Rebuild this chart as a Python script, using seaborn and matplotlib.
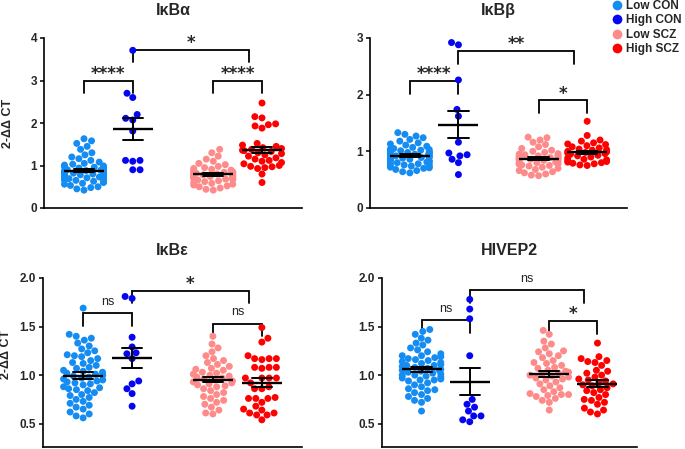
import pandas as pd
import seaborn as sns
import matplotlib.pyplot as plt

genes = ["IκBα", "IκBβ", "IκBε", "HIVEP2"]
groups = ["Low CON", "High CON", "Low SCZ", "High SCZ"]
colors = ["#158cf2", "#0505f2", "#ff8a8a", "#ff0000"]
positions = [0, 1, 2.65, 3.65]

# IκBα
a_low_con = [1.63, 1.58, 1.52, 1.45, 1.38, 1.30, 1.25, 1.20, 1.16, 1.12, 1.08, 1.05, 1.03, 1.01, 0.99,
             0.97, 0.96, 0.95, 0.94, 0.93, 0.92, 0.91, 0.90, 0.89, 0.88, 0.87, 0.86, 0.85, 0.84, 0.83,
             0.82, 0.81, 0.80, 0.79, 0.78, 0.77, 0.76, 0.75, 0.74, 0.73, 0.72, 0.71, 0.70, 0.69, 0.68,
             0.67, 0.66, 0.65, 0.63, 0.61, 0.60, 0.58, 0.56, 0.53, 0.50, 0.48, 0.45, 0.42]
a_high_con = [3.71, 2.70, 2.60, 2.20, 2.11, 2.07, 1.81, 1.12, 1.12, 1.10, 0.90, 0.90]
a_low_scz = [1.38, 1.30, 1.22, 1.15, 1.10, 1.05, 1.02, 0.98, 0.95, 0.93, 0.91, 0.89, 0.87, 0.86, 0.85,
             0.84, 0.83, 0.82, 0.81, 0.80, 0.79, 0.78, 0.77, 0.76, 0.75, 0.74, 0.73, 0.72, 0.71, 0.70,
             0.69, 0.68, 0.67, 0.66, 0.64, 0.62, 0.60, 0.58, 0.56, 0.54, 0.52, 0.50, 0.47, 0.44, 0.42]
a_high_scz = [2.47, 2.15, 2.12, 1.98, 1.96, 1.93, 1.88, 1.52, 1.48, 1.45, 1.42, 1.40, 1.38, 1.36, 1.35,
              1.33, 1.30, 1.28, 1.25, 1.22, 1.18, 1.15, 1.12, 1.10, 1.07, 1.04, 1.00, 0.98, 0.97, 0.95,
              0.93, 0.80, 0.60]

# IκBβ
b_low_con = [1.33, 1.30, 1.27, 1.24, 1.21, 1.18, 1.15, 1.13, 1.11, 1.09, 1.07, 1.05, 1.04, 1.03, 1.02,
             1.01, 1.00, 0.99, 0.98, 0.97, 0.97, 0.96, 0.95, 0.95, 0.94, 0.93, 0.93, 0.92, 0.91, 0.90,
             0.90, 0.89, 0.88, 0.87, 0.86, 0.85, 0.84, 0.83, 0.82, 0.81, 0.80, 0.79, 0.78, 0.77, 0.76,
             0.75, 0.74, 0.73, 0.72, 0.71, 0.70, 0.68, 0.66, 0.64, 0.62]
b_high_con = [2.92, 2.88, 2.26, 1.74, 1.62, 1.16, 0.97, 0.94, 0.92, 0.86, 0.80, 0.59]
b_low_scz = [1.25, 1.24, 1.20, 1.16, 1.12, 1.08, 1.05, 1.02, 1.00, 0.98, 0.96, 0.95, 0.94, 0.93, 0.92,
             0.91, 0.90, 0.89, 0.88, 0.87, 0.87, 0.86, 0.85, 0.84, 0.83, 0.82, 0.81, 0.80, 0.79, 0.78,
             0.77, 0.76, 0.75, 0.74, 0.72, 0.70, 0.68, 0.66, 0.64, 0.62, 0.60, 0.58, 0.57]
b_high_scz = [1.53, 1.28, 1.20, 1.18, 1.15, 1.13, 1.12, 1.10, 1.08, 1.06, 1.04, 1.03, 1.02, 1.00, 0.99,
              0.98, 0.97, 0.96, 0.95, 0.93, 0.92, 0.90, 0.88, 0.86, 0.85, 0.84, 0.82, 0.81, 0.80, 0.79,
              0.78, 0.76, 0.75]

# IκBε
e_low_con = [1.69, 1.42, 1.40, 1.38, 1.36, 1.33, 1.30, 1.27, 1.25, 1.23, 1.21, 1.20, 1.19, 1.17, 1.15,
             1.13, 1.12, 1.10, 1.08, 1.07, 1.05, 1.04, 1.03, 1.02, 1.01, 1.00, 0.99, 0.98, 0.97, 0.96,
             0.95, 0.94, 0.93, 0.92, 0.91, 0.90, 0.88, 0.87, 0.86, 0.85, 0.84, 0.82, 0.80, 0.79, 0.77,
             0.75, 0.73, 0.71, 0.69, 0.67, 0.65, 0.62, 0.60, 0.58, 0.56]
e_high_con = [1.79, 1.81, 1.39, 1.29, 1.23, 1.17, 1.22, 0.94, 0.86, 0.91, 0.81, 0.68]
e_low_scz = [1.40, 1.32, 1.28, 1.24, 1.20, 1.17, 1.15, 1.13, 1.11, 1.09, 1.07, 1.06, 1.05, 1.03, 1.02,
             1.01, 1.00, 0.99, 0.98, 0.97, 0.96, 0.95, 0.94, 0.93, 0.92, 0.91, 0.90, 0.89, 0.88, 0.86,
             0.84, 0.82, 0.80, 0.78, 0.76, 0.74, 0.72, 0.70, 0.67, 0.64, 0.61, 0.60]
e_high_scz = [1.49, 1.38, 1.34, 1.20, 1.17, 1.17, 1.16, 1.17, 1.08, 1.08, 1.07, 1.08, 0.97, 0.97, 0.97,
              0.97, 0.92, 0.88, 0.86, 0.86, 0.76, 0.76, 0.77, 0.76, 0.72, 0.68, 0.65, 0.64, 0.61, 0.61,
              0.59, 0.59, 0.54]

# HIVEP2
h_low_con = [1.47, 1.45, 1.42, 1.38, 1.36, 1.33, 1.31, 1.28, 1.26, 1.24, 1.22, 1.20, 1.20, 1.19, 1.18,
             1.17, 1.16, 1.15, 1.14, 1.13, 1.12, 1.11, 1.10, 1.10, 1.09, 1.08, 1.07, 1.06, 1.05, 1.05,
             1.04, 1.03, 1.02, 1.01, 1.00, 1.00, 0.99, 0.98, 0.97, 0.96, 0.95, 0.95, 0.94, 0.92, 0.90,
             0.88, 0.86, 0.85, 0.84, 0.82, 0.80, 0.78, 0.76, 0.74, 0.72, 0.63]
h_high_con = [1.78, 1.68, 1.58, 1.20, 0.75, 0.70, 0.67, 0.63, 0.58, 0.58, 0.54, 0.52]
h_low_scz = [1.46, 1.42, 1.35, 1.32, 1.28, 1.25, 1.24, 1.22, 1.20, 1.18, 1.15, 1.13, 1.12, 1.10, 1.08,
             1.07, 1.05, 1.04, 1.03, 1.02, 1.01, 1.00, 0.99, 0.98, 0.97, 0.96, 0.95, 0.93, 0.91, 0.89,
             0.87, 0.85, 0.83, 0.81, 0.80, 0.80, 0.79, 0.78, 0.76, 0.74, 0.72, 0.64]
h_high_scz = [1.33, 1.19, 1.17, 1.15, 1.14, 1.13, 1.10, 1.05, 1.04, 1.02, 1.00, 0.98, 0.96, 0.95, 0.94,
              0.92, 0.91, 0.90, 0.89, 0.87, 0.85, 0.84, 0.82, 0.80, 0.77, 0.75, 0.74, 0.72, 0.70, 0.66,
              0.64, 0.62, 0.60]

values = {
    "IκBα": [a_low_con, a_high_con, a_low_scz, a_high_scz],
    "IκBβ": [b_low_con, b_high_con, b_low_scz, b_high_scz],
    "IκBε": [e_low_con, e_high_con, e_low_scz, e_high_scz],
    "HIVEP2": [h_low_con, h_high_con, h_low_scz, h_high_scz],
}

ylims = {"IκBα": (0, 4), "IκBβ": (0, 3), "IκBε": (0.26, 2.0), "HIVEP2": (0.26, 2.0)}
yticks = {"IκBα": [0, 1, 2, 3, 4], "IκBβ": [0, 1, 2, 3],
          "IκBε": [0.5, 1.0, 1.5, 2.0], "HIVEP2": [0.5, 1.0, 1.5, 2.0]}
ytick_labels = {"IκBα": ["0", "1", "2", "3", "4"], "IκBβ": ["0", "1", "2", "3"],
                "IκBε": ["0.5", "1.0", "1.5", "2.0"], "HIVEP2": ["0.5", "1.0", "1.5", "2.0"]}

# significance brackets: (group i, group j, bracket height, label)
brackets = {
    "IκBα": [(0, 1, 3.0, "****"), (1, 3, 3.72, "*"), (2, 3, 3.0, "****")],
    "IκBβ": [(0, 1, 2.24, "****"), (1, 3, 2.77, "**"), (2, 3, 1.90, "*")],
    "IκBε": [(0, 1, 1.635, "ns"), (1, 3, 1.867, "*"), (2, 3, 1.53, "ns")],
    "HIVEP2": [(0, 1, 1.564, "ns"), (1, 3, 1.873, "ns"), (2, 3, 1.557, "*")],
}

rows = []
for gene in genes:
    for g, p, vals in zip(groups, positions, values[gene]):
        for v in vals:
            rows.append({"gene": gene, "group": g, "pos": p, "value": v})
df = pd.DataFrame(rows)

sns.set_style("ticks")
plt.rcParams["font.family"] = ["Liberation Sans", "DejaVu Sans"]
plt.rcParams["font.weight"] = "bold"

W, H = 685, 449
fig = plt.figure(figsize=(W / 100, H / 100), dpi=100)
rects = {
    "IκBα": (44, 38, 258, 170),
    "IκBβ": (370, 38, 257, 170),
    "IκBε": (43, 278, 259, 169),
    "HIVEP2": (382, 278, 255, 169),
}

legend_handles = None
for gene in genes:
    x0, y0, w, h = rects[gene]
    ax = fig.add_axes([x0 / W, (H - y0 - h) / H, w / W, h / H])
    sub = df[df["gene"] == gene]
    sns.swarmplot(data=sub, x="pos", y="value", hue="group", hue_order=groups,
                  palette=colors, native_scale=True, size=5, linewidth=0,
                  legend=(gene == "IκBβ"), warn_thresh=1, ax=ax)
    if gene == "IκBβ":
        legend_handles = ax.get_legend_handles_labels()
    sns.pointplot(data=sub, x="pos", y="value", native_scale=True, errorbar="se",
                  color="black", marker="_", markersize=29, markeredgewidth=1.7,
                  linestyle="none", capsize=0.42, zorder=5,
                  err_kws={"linewidth": 1.4, "zorder": 5}, legend=False, ax=ax)
    if ax.get_legend() is not None:
        ax.get_legend().remove()

    lo, hi = ylims[gene]
    ax.set_ylim(lo, hi)
    ax.set_xlim(-0.82, 4.47)
    ax.set_xticks([])
    ax.set_xlabel("")
    ax.set_yticks(yticks[gene])
    ax.set_yticklabels(ytick_labels[gene], fontsize=8.5, fontweight="bold")
    ax.tick_params(axis="y", length=3, width=1.1, pad=2, color="black")
    sns.despine(ax=ax)
    for s in ["left", "bottom"]:
        ax.spines[s].set_linewidth(1.2)
        ax.spines[s].set_color("black")
    ax.set_title(gene, fontsize=11.5, fontweight="bold", y=1.135, pad=0)
    if gene in ("IκBα", "IκBε"):
        ax.set_ylabel("2-ΔΔ CT", fontsize=9, fontweight="bold")
        ax.yaxis.set_label_coords(-0.118, 0.5 if gene == "IκBα" else 0.55)
    else:
        ax.set_ylabel("")

    drop = 0.074 * (hi - lo)
    for i, j, yb, label in brackets[gene]:
        xa = positions[i]
        xb = positions[j] - 0.27 if i == 1 else positions[j]
        ax.plot([xa, xa, xb, xb], [yb - drop, yb, yb, yb - drop], color="black",
                lw=1.3, clip_on=False, solid_joinstyle="miter")
        if label == "ns":
            ax.annotate(label, xy=((xa + xb) / 2, yb), xytext=(0, 6),
                        textcoords="offset points", ha="center", va="baseline",
                        fontsize=9, fontweight="normal", annotation_clip=False)
        else:
            ax.annotate(label, xy=((xa + xb) / 2, yb), xytext=(0, 1.2),
                        textcoords="offset points", ha="center", va="baseline",
                        fontsize=12, fontweight="bold", family="DejaVu Sans",
                        annotation_clip=False)

handles, labels = legend_handles
for hd in handles:
    if hasattr(hd, "set_markersize"):
        hd.set_markersize(7)
fig.legend(handles, labels, loc="upper left", bbox_to_anchor=(613 / W, 1.0),
           frameon=False, borderpad=0, borderaxespad=0, handlelength=0.7,
           handletextpad=0.4, labelspacing=0.2, prop={"size": 8.5, "weight": "bold"})

fig.savefig("out.png", dpi=100)
